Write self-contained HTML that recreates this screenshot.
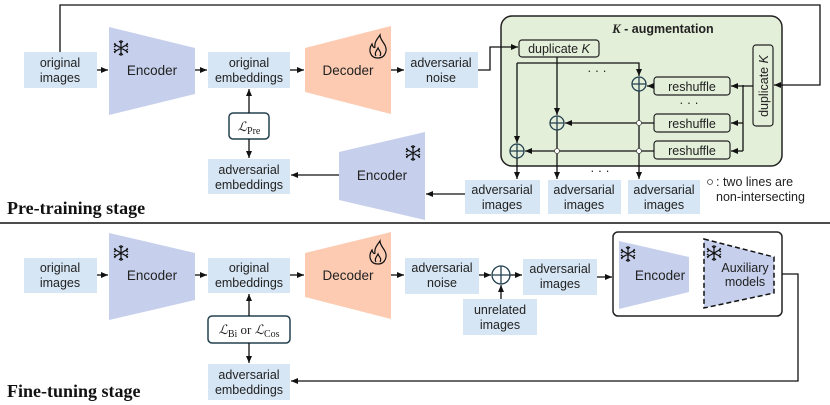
<!DOCTYPE html>
<html><head><meta charset="utf-8"><style>
html,body{margin:0;padding:0;background:#fff;}
svg{display:block;}
text{font-family:"Liberation Sans",sans-serif;font-size:12.5px;fill:#222;}
.b{font-size:13.5px;}
.s{font-family:"Liberation Serif",serif;font-weight:bold;font-size:18px;fill:#111;}
.m{font-family:"Liberation Serif",serif;font-size:13px;}
</style></head><body>
<svg width="830" height="405" viewBox="0 0 830 405" xmlns="http://www.w3.org/2000/svg">
<defs>
<marker id="a" markerWidth="8" markerHeight="8" refX="7" refY="4" orient="auto" markerUnits="userSpaceOnUse"><path d="M0,1 L7,4 L0,7 z" fill="#111"/></marker>
<g id="snow" stroke="#111" stroke-width="1.2" fill="none"><path d="M0,-8V8M-7,-4L7,4M-7,4L7,-4M-2,-7L0,-5L2,-7M-2,7L0,5L2,7M-7,-1L-5,-2.5L-6.5,-5M7,1L5,2.5L6.5,5M-7,1L-5,2.5L-6.5,5M7,-1L5,-2.5L6.5,-5"/></g>
<g id="fire" stroke="#111" stroke-width="1.2" fill="none"><path d="M0,11 C-8,11 -10,3 -6,-3 C-5,1 -3,1 -3,0 C-4,-5 0,-9 2,-12 C2,-6 9,-3 8,4 C7,9 4,11 0,11 Z M-2,9 C-4,6 -1,3 0,1 C1,4 4,5 2,9"/></g>
</defs>
<g fill="#d7e6f4">
<rect x="24" y="52" width="73" height="36"/><rect x="208" y="52" width="82" height="36"/><rect x="405" y="52" width="73" height="36"/><rect x="208" y="159" width="82" height="35"/>
<rect x="24" y="258" width="73" height="35"/><rect x="208" y="258" width="82" height="35"/><rect x="405" y="258" width="74" height="36"/><rect x="208" y="364" width="82" height="36"/><rect x="523" y="259" width="74" height="36"/><rect x="463" y="299" width="74" height="36"/>
<rect x="465" y="180" width="75" height="34"/><rect x="548" y="180" width="73" height="34"/><rect x="628" y="180" width="72" height="34"/>
</g>
<g fill="#c6d0ec">
<polygon points="109,27 195,48 195,94 109,115"/><polygon points="109,233 195,253 195,300 109,320"/>
<polygon points="339,152 425,132 425,220 339,200"/><polygon points="619,241 689,257 689,292 619,309"/>
<polygon points="704,239 774,257 774,293 704,308" stroke="#111" stroke-width="1.5" stroke-dasharray="5,3"/>
</g>
<g fill="#fdcbb2"><polygon points="305,48 391,26 391,114 305,92"/><polygon points="305,253 391,232 391,319 305,297"/></g>
<rect x="501" y="16" width="281" height="150" rx="11" fill="#e3efd9" stroke="#222" stroke-width="1.5"/>
<rect x="613" y="232" width="169" height="84" rx="5" fill="none" stroke="#222" stroke-width="1.5"/>
<g fill="#e3efd9" stroke="#222" stroke-width="1.2">
<rect x="519" y="40" width="80" height="17" rx="3"/><rect x="753" y="45" width="20" height="81" rx="3"/>
<rect x="654" y="77" width="76" height="18" rx="3"/><rect x="654" y="114" width="76" height="18" rx="3"/><rect x="654" y="141" width="76" height="18" rx="3"/>
</g>
<g fill="#fff" stroke="#23404f" stroke-width="1.5"><rect x="229" y="113" width="40" height="26" rx="4"/><rect x="208" y="316" width="82" height="27" rx="4"/></g>
<g stroke="#111" stroke-width="1.3" fill="none">
<path d="M97,70H108" marker-end="url(#a)"/><path d="M195,70H207" marker-end="url(#a)"/><path d="M290,70H304" marker-end="url(#a)"/><path d="M391,70H404" marker-end="url(#a)"/>
<path d="M249,113V89" marker-end="url(#a)"/><path d="M249,139V158" marker-end="url(#a)"/>
<path d="M339,175H291" marker-end="url(#a)"/><path d="M465,194H426" marker-end="url(#a)"/>
<path d="M60,52V5H820V85H774" marker-end="url(#a)"/>
<path d="M478,70H490V47H518" marker-end="url(#a)"/>
<path d="M557,57V115" marker-end="url(#a)"/><path d="M557,130V179" marker-end="url(#a)"/>
<path d="M517,63H639V76" marker-end="url(#a)"/><path d="M517,63V143" marker-end="url(#a)"/>
<path d="M639,91V179" marker-end="url(#a)"/><path d="M517,158V179" marker-end="url(#a)"/>
<path d="M743,85V151"/><path d="M753,86H731" marker-end="url(#a)"/><path d="M743,123H731" marker-end="url(#a)"/><path d="M743,151H731" marker-end="url(#a)"/>
<path d="M654,86H647" marker-end="url(#a)"/><path d="M654,123H565" marker-end="url(#a)"/><path d="M654,151H525" marker-end="url(#a)"/>
<path d="M97,275H108" marker-end="url(#a)"/><path d="M195,275H207" marker-end="url(#a)"/><path d="M290,275H304" marker-end="url(#a)"/><path d="M391,275H404" marker-end="url(#a)"/>
<path d="M249,316V294" marker-end="url(#a)"/><path d="M249,343V363" marker-end="url(#a)"/>
<path d="M479,275H491" marker-end="url(#a)"/><path d="M510,275H522" marker-end="url(#a)"/><path d="M501,299V285" marker-end="url(#a)"/>
<path d="M597,277H612" marker-end="url(#a)"/>
<path d="M782,274H798V381H291" marker-end="url(#a)"/>
</g>
<g fill="#e3efd9" stroke="#23404f" stroke-width="1.3">
<circle cx="639" cy="84" r="7"/><path d="M632,84H646M639,77V91"/>
<circle cx="557" cy="123" r="7"/><path d="M550,123H564M557,116V130"/>
<circle cx="517" cy="151" r="7"/><path d="M510,151H524M517,144V158"/>
<circle cx="501" cy="275" r="9" fill="#fff"/><path d="M492,275H510M501,266V284"/>
</g>
<g fill="#fff" stroke="#444" stroke-width="0.8"><circle cx="639" cy="123" r="2.5"/><circle cx="639" cy="151" r="2.5"/><circle cx="557" cy="151" r="2.5"/><circle cx="710" cy="182" r="2.5"/></g>
<line x1="0" y1="223" x2="830" y2="223" stroke="#111" stroke-width="1.5"/>
<use href="#snow" x="121" y="48"/><use href="#snow" x="121" y="253"/><use href="#snow" x="413" y="153"/><use href="#snow" x="628" y="254"/><use href="#snow" x="714" y="253"/>
<use href="#fire" x="378" y="47"/><use href="#fire" x="378" y="253"/>
<g text-anchor="middle">
<text x="60" y="67">original</text><text x="60" y="82">images</text>
<text x="152" y="75" class="b">Encoder</text>
<text x="249" y="67">original</text><text x="249" y="82">embeddings</text>
<text x="348" y="75" class="b">Decoder</text>
<text x="441" y="67">adversarial</text><text x="441" y="82">noise</text>
<text x="249" y="174">adversarial</text><text x="249" y="189">embeddings</text>
<text x="382" y="180" class="b">Encoder</text>
<text x="502" y="194">adversarial</text><text x="502" y="209">images</text>
<text x="584" y="194">adversarial</text><text x="584" y="209">images</text>
<text x="664" y="194">adversarial</text><text x="664" y="209">images</text>
<text x="559" y="53">duplicate <tspan font-style="italic">K</tspan></text>
<text x="692" y="91">reshuffle</text><text x="692" y="128">reshuffle</text><text x="692" y="155">reshuffle</text>
<text x="663" y="33" font-weight="bold"><tspan font-style="italic" font-family="Liberation Serif">K</tspan> - augmentation</text>
<text x="597" y="75">· · ·</text><text x="689" y="107">· · ·</text><text x="600" y="175">· · ·</text>
<text x="249" y="131" class="m" font-style="italic">ℒ<tspan font-style="normal" font-size="10" dy="3">Pre</tspan></text>
<text x="249" y="334" class="m"><tspan font-style="italic">ℒ</tspan><tspan font-size="10" dy="3">Bi</tspan><tspan dy="-3"> or </tspan><tspan font-style="italic">ℒ</tspan><tspan font-size="10" dy="3">Cos</tspan></text>
<text x="60" y="272">original</text><text x="60" y="287">images</text>
<text x="152" y="280" class="b">Encoder</text>
<text x="249" y="272">original</text><text x="249" y="287">embeddings</text>
<text x="348" y="280" class="b">Decoder</text>
<text x="442" y="272">adversarial</text><text x="442" y="287">noise</text>
<text x="560" y="273">adversarial</text><text x="560" y="288">images</text>
<text x="500" y="314">unrelated</text><text x="500" y="329">images</text>
<text x="660" y="280" class="b">Encoder</text>
<text x="745" y="272">Auxiliary</text><text x="745" y="286">models</text>
<text x="249" y="379">adversarial</text><text x="249" y="394">embeddings</text>
</g>
<text x="716" y="186">: two lines are</text><text x="716" y="201">non-intersecting</text>
<text transform="translate(768,86) rotate(-90)" text-anchor="middle">duplicate <tspan font-style="italic">K</tspan></text>
<text class="s" x="7" y="214">Pre-training stage</text>
<text class="s" x="7" y="397">Fine-tuning stage</text>
</svg>
</body></html>
